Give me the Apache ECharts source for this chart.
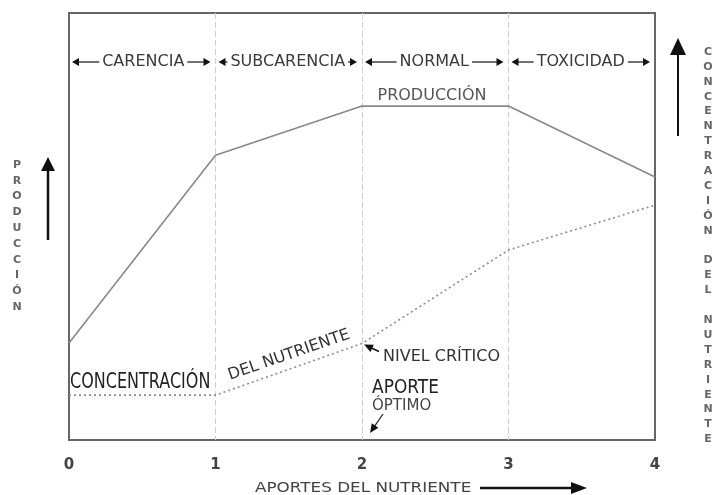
<!DOCTYPE html>
<html><head><meta charset="utf-8">
<script src="https://cdn.jsdelivr.net/npm/echarts@6/dist/echarts.min.js"></script>
<style>html,body{margin:0;padding:0;background:#fff}#c{width:715px;height:495px}</style>
</head><body><div id="c"></div>
<script>
// ---- data ----
const xTicks = [0, 1, 2, 3, 4];
const aportes = [0, 1, 2, 3, 4];
const produccion = [22.7, 66.7, 78.2, 78.2, 61.6];
const concentracion = [10.5, 10.5, 22.6, 44.5, 55.0];
const regiones = ['CARENCIA', 'SUBCARENCIA', 'NORMAL', 'TOXICIDAD'];
const regionLimites = [0, 1, 2, 3, 4];
const ejeIzq = 'PRODUCCIÓN';
const ejeDer = 'CONCENTRACIÓN DEL NUTRIENTE';
const ejeX = 'APORTES DEL NUTRIENTE';

const FONT = '"DejaVu Sans", "Liberation Sans", sans-serif';
const chart = echarts.init(document.getElementById('c'), null, {renderer: 'canvas'});

chart.setOption({
  animation: false,
  backgroundColor: '#fff',
  grid: {left: 69, right: 60, top: 13, bottom: 55, show: true, borderColor: '#666', borderWidth: 2},
  xAxis: {
    type: 'value', min: 0, max: 4, interval: 1,
    axisLine: {show: false}, axisTick: {show: false},
    splitLine: {show: true, showMinLine: false, showMaxLine: false, lineStyle: {color: '#cfcfcf', width: 1, type: [6, 3]}},
    axisLabel: {margin: 18, color: '#444', fontSize: 15, fontWeight: 'bold', fontFamily: FONT,
      formatter: v => xTicks.includes(v) ? String(v) : ''}
  },
  yAxis: {
    type: 'value', min: 0, max: 100,
    axisLine: {show: false}, axisTick: {show: false}, splitLine: {show: false}, axisLabel: {show: false}
  },
  series: [
    {name: 'Producción', type: 'line', symbol: 'none',
     data: aportes.map((x, i) => [x, produccion[i]]),
     lineStyle: {color: '#888', width: 1.6}},
    {name: 'Concentración', type: 'line', symbol: 'none',
     data: aportes.map((x, i) => [x, concentracion[i]]),
     lineStyle: {color: '#8c8c8c', width: 1.6, type: [2, 3]}}
  ]
});

// ---- decorations ----
const px = (x, y) => chart.convertToPixel({gridIndex: 0}, [x, y]);
const g = [];
const measure = (() => { const c = document.createElement('canvas').getContext('2d');
  return (t, f) => { c.font = f; return c.measureText(t).width; }; })();

function text(t, x, y, opt) {
  opt = opt || {};
  const size = opt.size || 16;
  g.push({type: 'text', x: x, y: y, rotation: opt.rot || 0, scaleX: opt.sx || 1, scaleY: opt.sy || 1,
    silent: true, z: 100,
    style: {text: t, fill: opt.color || '#333', fontSize: size, fontFamily: FONT, fontWeight: opt.weight || 'normal',
      align: opt.align || 'left', verticalAlign: 'middle', textAlign: opt.align || 'left', textVerticalAlign: 'middle'}});
}
function line(x1, y1, x2, y2, w, color) {
  g.push({type: 'line', silent: true, z: 100, shape: {x1, y1, x2, y2}, style: {stroke: color || '#111', lineWidth: w || 1.5}});
}
function head(tx, ty, fx, fy, len, half, color) {
  const dx = tx - fx, dy = ty - fy, L = Math.hypot(dx, dy), ux = dx / L, uy = dy / L;
  const bx = tx - ux * len, by = ty - uy * len;
  g.push({type: 'polygon', silent: true, z: 100,
    shape: {points: [[tx, ty], [bx - uy * half, by + ux * half], [bx + uy * half, by - ux * half]]},
    style: {fill: color || '#111'}});
}

// Region arrows
const yReg = 62;
const regFont = '16px "DejaVu Sans"';
regiones.forEach((name, i) => {
  const a = px(regionLimites[i], 0)[0], b = px(regionLimites[i + 1], 0)[0];
  const lt = a + 3, rt = b - 5;
  const cx = (lt + rt) / 2 + (i === 0 ? 2 : 0);
  const w = measure(name, regFont);
  const tl = cx - w / 2, tr = cx + w / 2;
  head(lt, yReg, lt + 10, yReg, 7, 4);
  head(rt, yReg, rt - 10, yReg, 7, 4);
  if (tl - 3 > lt + 7) line(lt + 6, yReg, tl - 3, yReg, 1.3, '#222');
  if (rt - 7 > tr + 3) line(tr + 3, yReg, rt - 6, yReg, 1.3, '#222');
  text(name, cx, yReg, {align: 'center', size: 16, color: '#3a3a3a'});
});

// In-plot labels
text('PRODUCCIÓN', 432, 96, {align: 'center', size: 16, color: '#555'});
text('CONCENTRACIÓN', 70, 383, {size: 16, sy: 1.3, color: '#222'});
text('DEL NUTRIENTE', 289, 355, {align: 'center', size: 16, rot: 19 * Math.PI / 180, color: '#333'});
text('NIVEL CRÍTICO', 383, 357, {size: 16, color: '#333'});
text('APORTE', 372, 388, {size: 17, sy: 1.1, color: '#222'});
text('ÓPTIMO', 372, 406, {size: 15, color: '#444'});

// Nivel crítico pointer -> concentration at aporte 2
const pc = px(aportes[2], concentracion[2]);
line(pc[0] + 17, pc[1] + 8, pc[0] + 6, pc[1] + 3, 1.5);
head(pc[0] + 2, pc[1] + 1, pc[0] + 17, pc[1] + 8, 9, 4);
// Aporte óptimo pointer -> axis at aporte 2
line(383, 414, 374, 427, 1.2);
head(370, 433, 383, 414, 9, 4);

// X axis title with arrow
text(ejeX, 255, 488, {size: 16, sx: 1.05, sy: 0.85, color: '#444'});
line(480, 488, 572, 488, 2.5);
head(587, 488, 560, 488, 16, 6);

// Left vertical title + arrow
ejeIzq.split('').forEach((ch, i) => text(ch, 17, 165 + i * 15.8, {align: 'center', size: 11, weight: 'bold', color: '#666'}));
line(48, 240, 48, 168, 2.5);
head(48, 157, 48, 200, 14, 7);

// Right vertical title + arrow
ejeDer.split('').forEach((ch, i) => { if (ch !== ' ') text(ch, 708, 52 + i * 14.9, {align: 'center', size: 11, weight: 'bold', color: '#666'}); });
line(678, 136, 678, 52, 2);
head(678, 38, 678, 80, 17, 8);

chart.setOption({graphic: {elements: g}});
</script>
</body></html>
